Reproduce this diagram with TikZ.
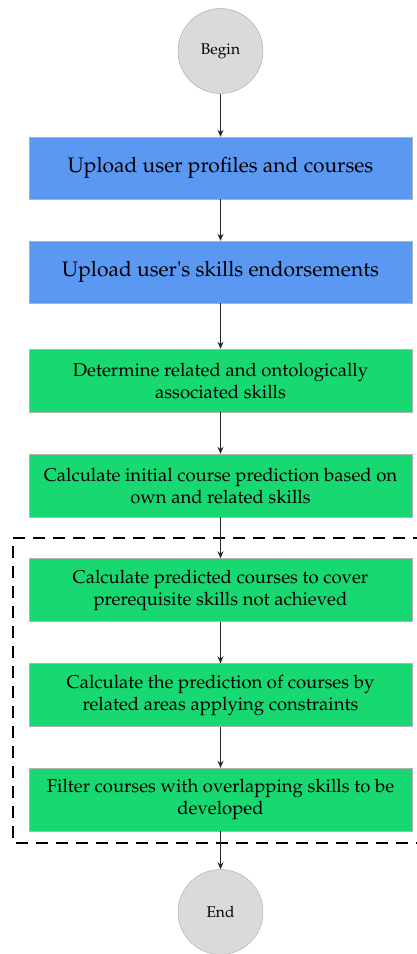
\documentclass[tikz,border=0pt]{standalone}
\usepackage[T1]{fontenc}
\usepackage{mathpazo}
\usepackage{textcomp}
\usepackage{tikz}
\usetikzlibrary{arrows.meta, positioning}

\definecolor{stepblue}{RGB}{90,152,242}
\definecolor{stepgreen}{RGB}{24,216,114}
\definecolor{endgray}{RGB}{218,218,218}

\begin{document}
\begin{tikzpicture}[x=1pt, y=-1pt, >={Stealth[length=7pt,width=6pt]},
    every node/.style={text=black},
    terminal/.style={circle, draw=gray!70, fill=endgray, minimum size=85pt, inner sep=0pt, font=\fontsize{15.5}{18}\selectfont},
    uploadbox/.style={rectangle, draw=gray!60, fill=stepblue, minimum width=383pt, minimum height=62pt, font=\fontsize{21}{24}\selectfont},
    calcbox/.style={rectangle, draw=gray!60, fill=stepgreen, minimum width=383pt, minimum height=63pt, align=center, font=\fontsize{18.5}{22}\selectfont},
    flow/.style={->, line width=0.9pt, draw=black!85}]
    \useasboundingbox (0,0) rectangle (417,954);

    % nodes
    \node[terminal] (begin) at (220.5,51) {Begin};
    \node[uploadbox] (profiles) at (220.5,168) {Upload user profiles and courses};
    \node[uploadbox] (endorse) at (220.5,272) {Upload user\textquotesingle s skills endorsements};
    \node[calcbox] (related) at (220.5,380.5) {Determine related and ontologically\\associated skills};
    \node[calcbox] (initial) at (220.5,485.5) {Calculate initial course prediction based on\\own and related skills};
    \node[calcbox] (prereq) at (220.5,590) {Calculate predicted courses to cover\\prerequisite skills not achieved};
    \node[calcbox] (areas) at (220.5,695) {Calculate the prediction of courses by\\related areas applying constraints};
    \node[calcbox] (filter) at (220.5,799.5) {Filter courses with overlapping skills to be\\developed};
    \node[terminal] (end) at (220.5,912) {End};

    % dashed frame
    \draw[line width=1.8pt, dash pattern=on 12pt off 8pt] (425,538) -- (13,538) -- (13,843) -- (425,843);

    % arrows
    \draw[flow] (begin) -- (profiles);
    \draw[flow] (profiles) -- (endorse);
    \draw[flow] (endorse) -- (related);
    \draw[flow] (related) -- (initial);
    \draw[flow] (initial) -- (prereq);
    \draw[flow] (prereq) -- (areas);
    \draw[flow] (areas) -- (filter);
    \draw[flow] (filter) -- (end);
\end{tikzpicture}
\end{document}
